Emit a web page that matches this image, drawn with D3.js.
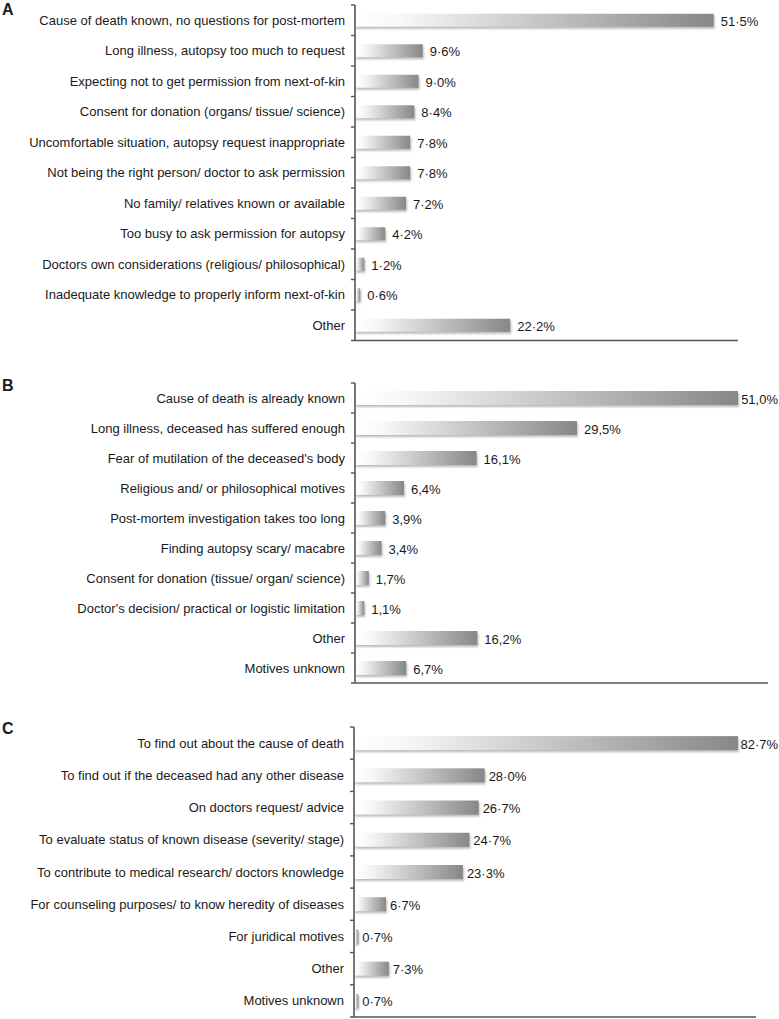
<!DOCTYPE html>
<html><head><meta charset="utf-8">
<script src="https://cdn.jsdelivr.net/npm/d3@7"></script>
<style>
html,body{margin:0;padding:0;background:#fff;}
svg text{font-family:Arial,"Liberation Sans",sans-serif;fill:#1a1a1a;}
</style></head>
<body><svg id="c" width="779" height="1019"></svg>
<script>
const catsA = ["Cause of death known, no questions for post-mortem","Long illness, autopsy too much to request","Expecting not to get permission from next-of-kin","Consent for donation (organs/ tissue/ science)","Uncomfortable situation, autopsy request inappropriate","Not being the right person/ doctor to ask permission","No family/ relatives known or available","Too busy to ask permission for autopsy","Doctors own considerations (religious/ philosophical)","Inadequate knowledge to properly inform next-of-kin","Other"];
const valsA = [51.5,9.6,9.0,8.4,7.8,7.8,7.2,4.2,1.2,0.6,22.2];

const catsB = ["Cause of death is already known","Long illness, deceased has suffered enough","Fear of mutilation of the deceased's body","Religious and/ or philosophical motives","Post-mortem investigation takes too long","Finding autopsy scary/ macabre","Consent for donation (tissue/ organ/ science)","Doctor's decision/ practical or logistic limitation","Other","Motives unknown"];
const valsB = [51.0,29.5,16.1,6.4,3.9,3.4,1.7,1.1,16.2,6.7];

const catsC = ["To find out about the cause of death","To find out if the deceased had any other disease","On doctors request/ advice","To evaluate status of known disease (severity/ stage)","To contribute to medical research/ doctors knowledge","For counseling purposes/ to know heredity of diseases","For juridical motives","Other","Motives unknown"];
const valsC = [82.7,28.0,26.7,24.7,23.3,6.7,0.7,7.3,0.7];

const panelLetters = ["A","B","C"];
const decimalSeps = ["·", ",", "·"];

const svg = d3.select("#c");
const W = 779;
const defs = svg.append("defs");
const grad = defs.append("linearGradient").attr("id","barGrad").attr("x1","0").attr("x2","1").attr("y1","0").attr("y2","0");
grad.append("stop").attr("offset","0").attr("stop-color","#ffffff");
grad.append("stop").attr("offset","0.12").attr("stop-color","#f8f8f8");
grad.append("stop").attr("offset","1").attr("stop-color","#878787");
const filt = defs.append("filter").attr("id","shadow").attr("x","-20%").attr("y","-50%").attr("width","140%").attr("height","200%");
filt.append("feGaussianBlur").attr("stdDeviation","0.9");

const panels = [
  {cats:catsA, vals:valsA, top:5, bottom:340.5, x0:356, x1:738, max:55, barH:13, gap:7, letterY:9},
  {cats:catsB, vals:valsB, top:383, bottom:683, x0:356, x1:768, max:55, barH:14, gap:7, letterY:385},
  {cats:catsC, vals:valsC, top:727, bottom:1017, x0:355, x1:756, max:86.6, barH:14, gap:4, letterY:728}
];

panels.forEach((p,i)=>{
  const g = svg.append("g");
  const x = d3.scaleLinear().domain([0,p.max]).range([p.x0,p.x1]);
  const y = d3.scaleBand().domain(p.cats).range([p.top,p.bottom]).paddingInner(0).paddingOuter(0);
  const bw = y.bandwidth();
  const data = p.cats.map((c,k)=>({c, v:p.vals[k]}));
  const sep = decimalSeps[i];
  const fmt = v => v.toFixed(1).replace(".", sep) + "%";

  g.selectAll("rect.sh").data(data).join("rect").attr("class","sh")
    .attr("x", x(0)).attr("y", d=>y(d.c)+bw/2-p.barH/2+2)
    .attr("width", d=>Math.max(0.8, x(d.v)-x(0)+1)).attr("height", p.barH)
    .attr("fill","#a8a8a8").attr("filter","url(#shadow)").attr("opacity",0.8);
  g.selectAll("rect.bar").data(data).join("rect").attr("class","bar")
    .attr("x", x(0)).attr("y", d=>y(d.c)+bw/2-p.barH/2)
    .attr("width", d=>Math.max(0.8, x(d.v)-x(0))).attr("height", p.barH)
    .attr("fill","url(#barGrad)");
  g.selectAll("text.val").data(data).join("text").attr("class","val")
    .attr("x", d=>x(d.v)+p.gap).attr("y", d=>y(d.c)+bw/2+1)
    .attr("dominant-baseline","central").attr("font-size",13).text(d=>fmt(d.v))
    .each(function(){
      const len = this.getComputedTextLength();
      const cx = +this.getAttribute("x");
      if (cx + len > W - 1) this.setAttribute("x", W - 1 - len);
    });

  const ax = g.append("g").attr("transform",`translate(${x(0)-1},0)`)
    .call(d3.axisLeft(y).tickSize(0).tickPadding(10));
  ax.select(".domain").remove();
  ax.selectAll("text").attr("font-size",13).attr("fill","#1a1a1a").attr("dy","0.35em")
    .style("font-family","Arial, 'Liberation Sans', sans-serif");
  g.append("line").attr("x1",x(0)-1).attr("x2",x(0)-1).attr("y1",p.top).attr("y2",p.bottom)
    .attr("stroke","#555").attr("stroke-width",1.6);
  const bounds = p.cats.map(c=>y(c));
  g.selectAll("line.tk").data(bounds).join("line").attr("class","tk")
    .attr("x1",x(0)-5).attr("x2",x(0)-1).attr("y1",d=>d).attr("y2",d=>d)
    .attr("stroke","#555").attr("stroke-width",1.4);
  g.append("line").attr("x1",x(0)-5).attr("x2",p.x1).attr("y1",p.bottom).attr("y2",p.bottom)
    .attr("stroke","#555").attr("stroke-width",1.4);

  svg.append("text").attr("x",2).attr("y",p.letterY).attr("dominant-baseline","central")
    .attr("font-size",16).attr("font-weight","bold").attr("fill","#111").text(panelLetters[i]);
});
</script></body></html>
